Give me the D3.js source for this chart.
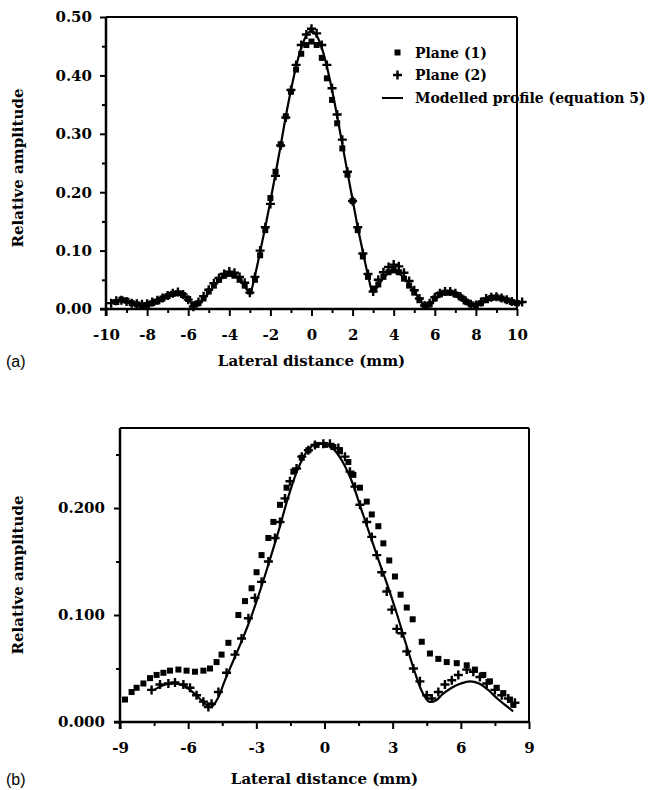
<!DOCTYPE html>
<html>
<head>
<meta charset="utf-8">
<script src="https://cdn.jsdelivr.net/npm/d3@7"></script>
<style>
  body { margin:0; background:#fff; }
  .tick text { font-family:"DejaVu Serif", serif; font-weight:bold; font-size:15px; fill:#000; }
  .lbl { font-family:"DejaVu Serif", serif; font-weight:bold; font-size:15px; fill:#000; }
  .leg { font-family:"DejaVu Serif", serif; font-weight:bold; font-size:14px; fill:#000; }
  .panel { font-family:"Liberation Sans", Arial, sans-serif; font-size:16px; fill:#000; }
</style>
</head>
<body>
<div id="chart"></div>
<script>
// panel (a): [lateral distance mm, relative amplitude]
var planeA1 = [[-9.5,0.012],[-9.25,0.016],[-9.0,0.014],[-8.75,0.010],[-8.5,0.008],[-8.25,0.006],[-8.0,0.007],[-7.75,0.010],[-7.5,0.013],[-7.25,0.018],[-7.0,0.022],[-6.75,0.026],[-6.5,0.027],[-6.25,0.024],[-6.0,0.017],[-5.75,0.008],[-5.5,0.010],[-5.25,0.018],[-5.0,0.030],[-4.75,0.040],[-4.5,0.050],[-4.25,0.057],[-4.0,0.060],[-3.75,0.057],[-3.5,0.050],[-3.25,0.040],[-3.0,0.030],[-2.75,0.050],[-2.5,0.092],[-2.25,0.135],[-2.0,0.190],[-1.75,0.235],[-1.5,0.282],[-1.25,0.330],[-1.0,0.372],[-0.75,0.410],[-0.5,0.437],[-0.25,0.452],[0,0.458],[0.25,0.452],[0.5,0.430],[0.75,0.395],[1.0,0.358],[1.25,0.318],[1.5,0.275],[1.75,0.230],[2.0,0.185],[2.25,0.135],[2.5,0.090],[2.75,0.055],[3.0,0.035],[3.25,0.042],[3.5,0.055],[3.75,0.063],[4.0,0.066],[4.25,0.063],[4.5,0.052],[4.75,0.040],[5.0,0.028],[5.25,0.015],[5.5,0.005],[5.75,0.008],[6.0,0.018],[6.25,0.025],[6.5,0.028],[6.75,0.028],[7.0,0.025],[7.25,0.020],[7.5,0.013],[7.75,0.008],[8.0,0.006],[8.25,0.010],[8.5,0.015],[8.75,0.019],[9.0,0.020],[9.25,0.018],[9.5,0.015],[9.75,0.012],[10.0,0.010]];

var planeA2 = [[-9.75,0.010],[-9.5,0.014],[-9.25,0.015],[-9.0,0.013],[-8.75,0.010],[-8.5,0.009],[-8.25,0.008],[-8.0,0.009],[-7.75,0.012],[-7.5,0.015],[-7.25,0.019],[-7.0,0.023],[-6.75,0.027],[-6.5,0.029],[-6.25,0.025],[-6.0,0.016],[-5.75,0.004],[-5.5,0.012],[-5.25,0.022],[-5.0,0.033],[-4.75,0.044],[-4.5,0.053],[-4.25,0.060],[-4.0,0.064],[-3.75,0.062],[-3.5,0.055],[-3.25,0.045],[-3.0,0.028],[-2.75,0.055],[-2.5,0.100],[-2.25,0.140],[-2.0,0.180],[-1.75,0.228],[-1.5,0.280],[-1.25,0.328],[-1.0,0.375],[-0.75,0.418],[-0.5,0.452],[-0.25,0.470],[0,0.480],[0.25,0.472],[0.5,0.452],[0.75,0.418],[1.0,0.378],[1.25,0.333],[1.5,0.290],[1.75,0.235],[2.0,0.185],[2.25,0.140],[2.5,0.095],[2.75,0.060],[3.0,0.030],[3.25,0.050],[3.5,0.063],[3.75,0.072],[4.0,0.076],[4.25,0.073],[4.5,0.062],[4.75,0.048],[5.0,0.032],[5.25,0.018],[5.5,0.006],[5.75,0.010],[6.0,0.020],[6.25,0.027],[6.5,0.030],[6.75,0.030],[7.0,0.027],[7.25,0.021],[7.5,0.014],[7.75,0.008],[8.0,0.007],[8.25,0.012],[8.5,0.018],[8.75,0.020],[9.0,0.021],[9.25,0.019],[9.5,0.016],[9.75,0.013],[10.0,0.010],[10.25,0.012]];

var modelA = [[-9.75,0.012],[-9.4,0.015],[-9.0,0.013],[-8.5,0.008],[-8.0,0.005],[-7.5,0.011],[-7.0,0.021],[-6.5,0.026],[-6.0,0.017],[-5.7,0.005],[-5.4,0.011],[-5.0,0.028],[-4.5,0.050],[-4.0,0.061],[-3.5,0.052],[-3.2,0.036],[-3.0,0.028],[-2.75,0.058],[-2.5,0.098],[-2.25,0.140],[-2.0,0.185],[-1.75,0.232],[-1.5,0.280],[-1.25,0.330],[-1.0,0.375],[-0.75,0.415],[-0.5,0.447],[-0.25,0.468],[0,0.477],[0.25,0.468],[0.5,0.447],[0.75,0.415],[1.0,0.375],[1.25,0.330],[1.5,0.282],[1.75,0.234],[2.0,0.187],[2.25,0.140],[2.5,0.098],[2.75,0.058],[3.0,0.028],[3.25,0.040],[3.5,0.053],[3.75,0.061],[4.0,0.064],[4.5,0.054],[5.0,0.030],[5.3,0.014],[5.6,0.003],[6.0,0.017],[6.5,0.028],[7.0,0.025],[7.5,0.014],[8.0,0.006],[8.5,0.014],[9.0,0.019],[9.5,0.016],[10.0,0.010],[10.25,0.011]];

// panel (b)
var planeB1 = [[-8.78,0.021],[-8.49,0.028],[-8.27,0.032],[-7.97,0.036],[-7.68,0.041],[-7.39,0.044],[-7.09,0.046],[-6.8,0.048],[-6.43,0.049],[-6.07,0.048],[-5.7,0.047],[-5.33,0.048],[-5.04,0.050],[-4.75,0.056],[-4.53,0.063],[-4.23,0.074],[-3.79,0.100],[-3.5,0.113],[-3.21,0.125],[-2.99,0.140],[-2.77,0.156],[-2.47,0.172],[-2.25,0.187],[-1.96,0.203],[-1.67,0.219],[-1.37,0.234],[-1.0,0.247],[-0.71,0.254],[-0.35,0.259],[0.02,0.259],[0.39,0.257],[0.68,0.253],[1.05,0.243],[1.27,0.231],[1.56,0.219],[1.86,0.206],[2.08,0.194],[2.37,0.183],[2.59,0.167],[2.85,0.151],[3.1,0.136],[3.35,0.119],[3.62,0.107],[3.88,0.096],[4.28,0.075],[4.64,0.064],[5.01,0.059],[5.38,0.056],[5.82,0.055],[6.26,0.053],[6.62,0.049],[6.99,0.044],[7.28,0.038],[7.58,0.032],[7.87,0.027],[8.16,0.021],[8.31,0.016]];

var planeB2 = [[-7.61,0.030],[-7.24,0.035],[-6.87,0.036],[-6.58,0.037],[-6.21,0.035],[-5.92,0.032],[-5.63,0.025],[-5.33,0.019],[-5.11,0.014],[-4.97,0.017],[-4.67,0.028],[-4.31,0.046],[-3.94,0.063],[-3.65,0.078],[-3.35,0.097],[-3.06,0.116],[-2.77,0.131],[-2.47,0.150],[-2.18,0.172],[-1.96,0.187],[-1.74,0.209],[-1.52,0.225],[-1.23,0.237],[-1.0,0.248],[-0.71,0.254],[-0.42,0.259],[-0.05,0.260],[0.24,0.260],[0.61,0.256],[0.9,0.248],[1.12,0.234],[1.34,0.220],[1.56,0.203],[1.86,0.187],[2.08,0.173],[2.3,0.156],[2.52,0.140],[2.74,0.122],[2.96,0.105],[3.18,0.087],[3.4,0.083],[3.62,0.066],[3.91,0.050],[4.2,0.038],[4.5,0.025],[4.72,0.022],[5.01,0.028],[5.3,0.035],[5.6,0.039],[5.89,0.044],[6.26,0.049],[6.55,0.047],[6.84,0.042],[7.14,0.036],[7.5,0.030],[7.8,0.025],[8.09,0.022],[8.38,0.018]];

var modelB = [[-7.5,0.030],[-7.0,0.035],[-6.6,0.036],[-6.2,0.034],[-5.8,0.028],[-5.4,0.020],[-5.0,0.014],[-4.7,0.022],[-4.4,0.038],[-4.0,0.058],[-3.6,0.078],[-3.2,0.100],[-2.8,0.125],[-2.4,0.152],[-2.0,0.180],[-1.6,0.210],[-1.2,0.235],[-0.8,0.252],[-0.4,0.260],[0,0.260],[0.4,0.255],[0.8,0.243],[1.2,0.225],[1.6,0.200],[2.0,0.175],[2.4,0.150],[2.8,0.126],[3.2,0.100],[3.6,0.072],[4.0,0.045],[4.3,0.028],[4.6,0.019],[4.9,0.020],[5.2,0.026],[5.6,0.032],[6.0,0.036],[6.4,0.038],[6.8,0.036],[7.2,0.030],[7.6,0.022],[8.0,0.015],[8.3,0.010]];

var ticksAx = [-10,-8,-6,-4,-2,0,2,4,6,8,10];
var ticksAy = [0,0.1,0.2,0.3,0.4,0.5];
var ticksBx = [-9,-6,-3,0,3,6,9];
var ticksBy = [0,0.1,0.2];

var svg = d3.select("#chart").append("svg")
  .attr("width",665)
  .attr("height",790);

function drawPanel(p){
  var x = d3.scaleLinear().domain(p.xDom).range([p.left,p.right]);
  var y = d3.scaleLinear().domain(p.yDom).range([p.bottom,p.top]);
  var g = svg.append("g");

  // frame: top and right thinner
  g.append("line").attr("x1",p.left).attr("x2",p.right).attr("y1",p.top).attr("y2",p.top)
    .attr("stroke","#000").attr("stroke-width",2);
  g.append("line").attr("x1",p.right).attr("x2",p.right).attr("y1",p.top).attr("y2",p.bottom)
    .attr("stroke","#000").attr("stroke-width",2);

  // minor ticks
  g.append("g")
    .attr("transform","translate(0,"+p.bottom+")")
    .call(d3.axisBottom(x).tickValues(p.xMinor).tickSize(4).tickFormat(""))
    .call(function(a){ a.select(".domain").remove(); a.selectAll("line").attr("stroke-width",2); });
  g.append("g")
    .attr("transform","translate("+p.left+",0)")
    .call(d3.axisLeft(y).tickValues(p.yMinor).tickSize(4).tickFormat(""))
    .call(function(a){ a.select(".domain").remove(); a.selectAll("line").attr("stroke-width",2); });

  var xa = g.append("g")
    .attr("transform","translate(0,"+p.bottom+")")
    .call(d3.axisBottom(x).tickValues(p.xTicks).tickSize(7).tickPadding(13)
      .tickFormat(function(d){ return String(d); }));
  xa.select(".domain").attr("stroke-width",2.5).attr("d","M"+(p.left-6)+",0H"+p.right);
  xa.selectAll("line").attr("stroke-width",2);

  var ya = g.append("g")
    .attr("transform","translate("+p.left+",0)")
    .call(d3.axisLeft(y).tickValues(p.yTicks).tickSize(6).tickPadding(p.yPad)
      .tickFormat(d3.format(p.yFmt)));
  ya.select(".domain").attr("stroke-width",2.5).attr("d","M0,"+p.top+"V"+(p.bottom+7));
  ya.selectAll("line").attr("stroke-width",2);

  // modelled profile
  var line = d3.line()
    .x(function(d){ return x(d[0]); })
    .y(function(d){ return y(d[1]); })
    .curve(d3.curveCatmullRom.alpha(0.5));
  g.append("path")
    .datum(p.model)
    .attr("fill","none")
    .attr("stroke","#000")
    .attr("stroke-width",2.2)
    .attr("d",line);

  // plane (1) squares
  g.selectAll("rect.p1")
    .data(p.plane1)
    .enter()
    .append("rect")
    .attr("class","p1")
    .attr("x",function(d){ return x(d[0])-p.sq/2; })
    .attr("y",function(d){ return y(d[1])-p.sq/2; })
    .attr("width",p.sq)
    .attr("height",p.sq)
    .attr("fill","#000");

  // plane (2) plus signs
  g.selectAll("path.p2")
    .data(p.plane2)
    .enter()
    .append("path")
    .attr("class","p2")
    .attr("d",function(d){
      var cx = x(d[0]), cy = y(d[1]), r = p.pl;
      return "M"+(cx-r)+","+cy+"H"+(cx+r)+"M"+cx+","+(cy-r)+"V"+(cy+r);
    })
    .attr("stroke","#000")
    .attr("stroke-width",2.4);

  svg.append("text")
    .attr("class","lbl")
    .attr("text-anchor","middle")
    .attr("transform","translate("+p.yLabX+","+p.yLabY+") rotate(-90)")
    .text("Relative amplitude");

  svg.append("text")
    .attr("class","lbl")
    .attr("text-anchor","middle")
    .attr("x",(p.left+p.right)/2)
    .attr("y",p.bottom+p.titleOff)
    .text("Lateral distance (mm)");

  svg.append("text")
    .attr("class","panel")
    .attr("x",6)
    .attr("y",p.bottom+p.titleOff+1)
    .text(p.tag);
}

drawPanel({
  left:106, right:517, top:17, bottom:309,
  xDom:[-10,10], yDom:[0,0.5],
  xTicks:ticksAx, yTicks:ticksAy,
  xMinor:[-9,-7,-5,-3,-1,1,3,5,7,9], yMinor:[0.05,0.15,0.25,0.35,0.45],
  yFmt:".2f", yPad:8, yLabX:23, yLabY:168, titleOff:57, tag:"(a)",
  plane1:planeA1, plane2:planeA2, model:modelA, sq:6, pl:4.5
});

drawPanel({
  left:120, right:529, top:428, bottom:722,
  xDom:[-9,9], yDom:[0,0.2748],
  xTicks:ticksBx, yTicks:ticksBy,
  xMinor:[-7.5,-4.5,-1.5,1.5,4.5,7.5], yMinor:[0.05,0.15,0.25],
  yFmt:".3f", yPad:9, yLabX:23, yLabY:575, titleOff:62, tag:"(b)",
  plane1:planeB1, plane2:planeB2, model:modelB, sq:6, pl:4.5
});

// legend for panel (a)
var leg = svg.append("g");
leg.append("rect").attr("x",394.5).attr("y",49.5).attr("width",6).attr("height",6).attr("fill","#000");
leg.append("path").attr("d","M393,75H402M397.5,70.5V79.5").attr("stroke","#000").attr("stroke-width",2.4);
leg.append("line").attr("x1",382).attr("x2",403).attr("y1",98).attr("y2",98).attr("stroke","#000").attr("stroke-width",2);
var legText = ["Plane (1)","Plane (2)","Modelled profile (equation 5)"];
leg.selectAll("text")
  .data(legText)
  .enter()
  .append("text")
  .attr("class","leg")
  .attr("x",415)
  .attr("y",function(d,i){ return [58,80,103][i]; })
  .text(function(d){ return d; });
</script>
</body>
</html>
